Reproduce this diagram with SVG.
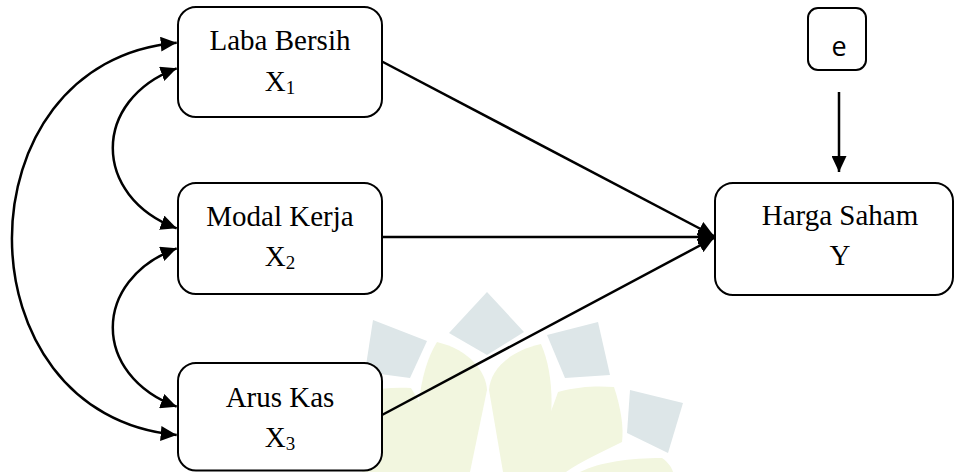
<svg xmlns="http://www.w3.org/2000/svg" width="955" height="472" viewBox="0 0 955 472">
<style>
.box{fill:#fff;stroke:#000;stroke-width:2}
.lbl{font-family:"Liberation Serif","Times New Roman",serif;font-size:29px;fill:#000;text-anchor:middle}
.sub{font-size:19px}
.con{fill:none;stroke:#000;stroke-width:2.5}
.wb{fill:#dde6e8}
.wy{fill:#f2f6df}
</style>
<defs>
<marker id="ah" markerUnits="userSpaceOnUse" markerWidth="16" markerHeight="15" refX="16" refY="7.5" orient="auto-start-reverse" viewBox="0 0 16 15">
<path d="M0,0 L16,7.5 L0,15 Z" fill="#000"/>
</marker>
</defs>
<rect width="955" height="472" fill="#fff"/>
<g id="watermark">
<polygon class="wb" points="487,292 524,332 487,355 449,333"/>
<polygon class="wb" points="373,320 427,341 410,378 365,372"/>
<polygon class="wb" points="547,335 598,322 610,375 565,378"/>
<polygon class="wb" points="630,390 683,403 668,453 627,433"/>
<path class="wy" d="M437,342 C470,350 486,372 487,390 L470,472 L425,472 C412,430 418,372 437,342 Z"/>
<path class="wy" d="M541,344 C506,352 490,372 489,390 L503,472 L538,472 C555,432 556,378 541,344 Z"/>
<path class="wy" d="M558,392 C580,386 598,386 614,387 C621,408 624,428 622,442 C602,452 580,462 566,472 L526,472 C540,440 552,410 558,392 Z"/>
<path class="wy" d="M362,392 C380,388 396,387 411,388 C428,415 440,445 452,472 L362,472 Z"/>
<path class="wy" d="M580,472 C600,462 630,458 662,458 C668,462 672,468 673,472 Z"/>
</g>
<g id="connectors">
<path class="con" d="M176.7,42.7 C-43,62 -43,415 176.7,435" marker-start="url(#ah)" marker-end="url(#ah)"/>
<path class="con" d="M176.7,68.3 C91.5,100 91.5,196 176.7,228.3" marker-start="url(#ah)" marker-end="url(#ah)"/>
<path class="con" d="M176.7,248.3 C91.5,280 91.5,375 176.7,406.7" marker-start="url(#ah)" marker-end="url(#ah)"/>
<path class="con" d="M382,61.5 L714,236" marker-end="url(#ah)"/>
<path class="con" d="M382,237 L714,237" marker-end="url(#ah)"/>
<path class="con" d="M382,415 L714,238" marker-end="url(#ah)"/>
<path class="con" d="M839,92 L839,172" marker-end="url(#ah)"/>
</g>
<g id="x1">
<rect class="box" x="178" y="7" width="204" height="110" rx="18"/>
<text class="lbl" x="280" y="50">Laba Bersih</text>
<text class="lbl" x="280" y="90.5">X<tspan class="sub" dy="3">1</tspan></text>
</g>
<g id="x2">
<rect class="box" x="178" y="183" width="204" height="111" rx="18"/>
<text class="lbl" x="280" y="225.5">Modal Kerja</text>
<text class="lbl" x="280" y="265.5">X<tspan class="sub" dy="3">2</tspan></text>
</g>
<g id="x3">
<rect class="box" x="178" y="363" width="204" height="107.5" rx="18"/>
<text class="lbl" x="280" y="406.5">Arus Kas</text>
<text class="lbl" x="280" y="446.5">X<tspan class="sub" dy="3">3</tspan></text>
</g>
<g id="y">
<rect class="box" x="715" y="183" width="238" height="112" rx="18"/>
<text class="lbl" x="840" y="225">Harga Saham</text>
<text class="lbl" x="840" y="265">Y</text>
</g>
<g id="e">
<rect class="box" x="808" y="8" width="58" height="62" rx="10"/>
<text x="839" y="56" font-family="'Open Sans','Liberation Sans',Arial,sans-serif" font-size="27" text-anchor="middle">e</text>
</g>
</svg>
